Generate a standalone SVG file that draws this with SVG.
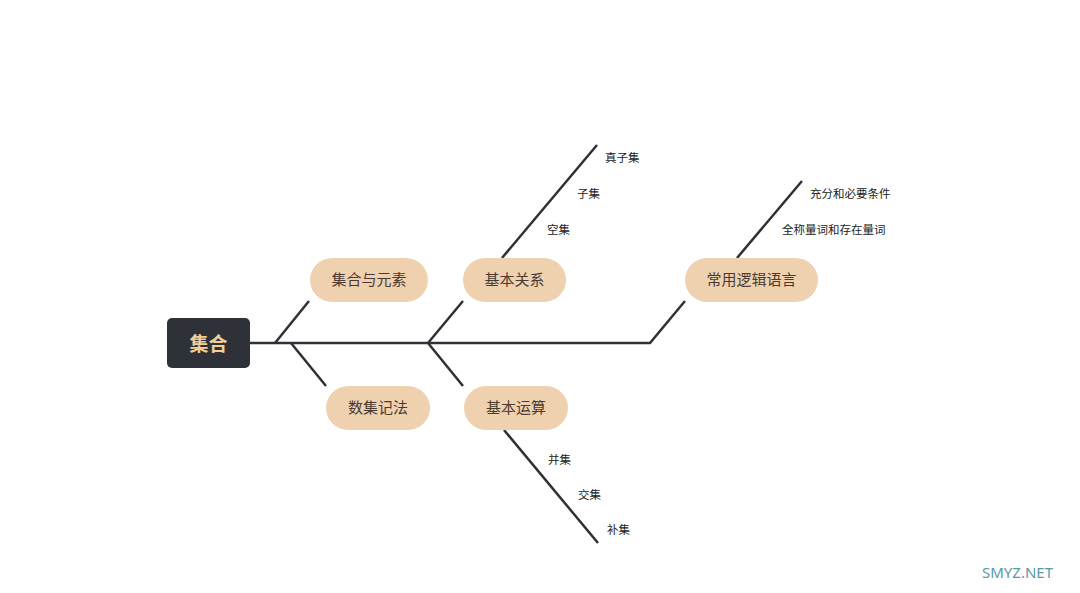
<svg xmlns="http://www.w3.org/2000/svg" width="1080" height="593" viewBox="0 0 1080 593">
<style>
.ln{stroke:#2f3136;stroke-width:2.5;fill:none}
.nd rect{fill:#efd1b0}
.nd text{font-family:"Noto Sans CJK SC",sans-serif;font-size:15px;fill:#4a3a30;text-anchor:middle}
.lb{font-family:"Noto Sans CJK SC",sans-serif;font-size:11.5px;fill:#222}
</style>
<rect width="1080" height="593" fill="#fff"/>
<g id="connectors">
<path class="ln" d="M250 343H650L685 301"/>
<path class="ln" d="M275 343L309 301M291 343L326 386M428 343L463 301M428 343L463 386"/>
<path class="ln" d="M502 258L597 145M737 258L802 181M504 430L598 543"/>
</g>
<g id="root"><rect x="167" y="318" width="83" height="50" rx="5" fill="#2f3138"/><text x="208.500" y="351" font-family="Noto Sans CJK SC,sans-serif" font-size="19" font-weight="bold" fill="#f3cf98" text-anchor="middle">集合</text></g>
<g id="n1" class="nd"><rect x="310" y="258" width="118" height="44" rx="22"/><text x="369" y="285">集合与元素</text></g>
<g id="n2" class="nd"><rect x="463" y="258" width="103" height="44" rx="22"/><text x="514.500" y="285">基本关系</text></g>
<g id="n3" class="nd"><rect x="685" y="258" width="133" height="44" rx="22"/><text x="751.500" y="285">常用逻辑语言</text></g>
<g id="n4" class="nd"><rect x="326" y="386" width="104" height="44" rx="22"/><text x="378" y="413">数集记法</text></g>
<g id="n5" class="nd"><rect x="464" y="386" width="104" height="44" rx="22"/><text x="516" y="413">基本运算</text></g>
<g id="labels">
<text class="lb" x="605" y="162">真子集</text>
<text class="lb" x="577" y="198">子集</text>
<text class="lb" x="547" y="234">空集</text>
<text class="lb" x="810" y="198">充分和必要条件</text>
<text class="lb" x="782" y="234">全称量词和存在量词</text>
<text class="lb" x="548" y="464">并集</text>
<text class="lb" x="578" y="499">交集</text>
<text class="lb" x="607" y="534">补集</text>
</g>
<text x="982" y="578" font-family="Noto Sans,sans-serif" font-size="15" fill="#5a9aa6">SMYZ.NET</text>
</svg>
